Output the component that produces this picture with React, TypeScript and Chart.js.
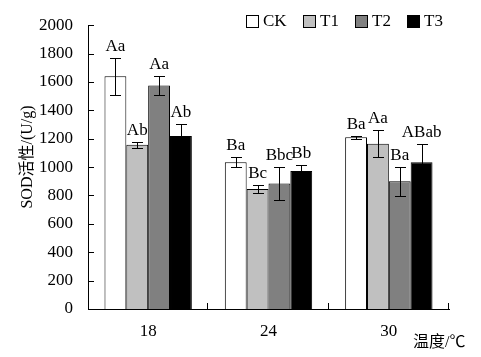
import React, { useEffect, useRef } from "react";
import { Chart, registerables } from "chart.js";

Chart.register(...registerables);

const categories = ["18", "24", "30"];
const seriesNames = ["CK", "T1", "T2", "T3"];
const ckValues = [1640, 1035, 1210];
const t1Values = [1158, 845, 1165];
const t2Values = [1575, 884, 900];
const t3Values = [1220, 972, 1035];
const ckErrors = [130, 35, 10];
const t1Errors = [22, 26, 95];
const t2Errors = [68, 116, 102];
const t3Errors = [82, 42, 128];
const ckLabels = ["Aa", "Ba", "Ba"];
const t1Labels = ["Ab", "Bc", "Aa"];
const t2Labels = ["Aa", "Bbc", "Ba"];
const t3Labels = ["Ab", "Bb", "ABab"];
const yTicks = [0, 200, 400, 600, 800, 1000, 1200, 1400, 1600, 1800, 2000];
const yTitle = "SOD活性/(U/g)";
const xTitle = "温度/℃";

const colors = ["#ffffff", "#c0c0c0", "#808080", "#000000"];
const FONT = "'Liberation Serif', 'Noto Sans CJK SC', serif";

export default function App() {
  const ref = useRef<HTMLCanvasElement>(null);
  useEffect(() => {
    document.body.style.margin = "0";
    const canvas = ref.current;
    if (!canvas) return;
    const values = [ckValues, t1Values, t2Values, t3Values];
    const errors = [ckErrors, t1Errors, t2Errors, t3Errors];
    const labels = [ckLabels, t1Labels, t2Labels, t3Labels];

    const extras = {
      id: "extras",
      afterDatasetsDraw(chart: any) {
        const ctx = chart.ctx;
        const ys = chart.scales.y;
        const area = chart.chartArea;
        ctx.save();
        ctx.strokeStyle = "#000";
        ctx.lineWidth = 1;
        // error bars and letters
        for (let d = 0; d < values.length; d++) {
          const meta = chart.getDatasetMeta(d);
          meta.data.forEach((bar: any, i: number) => {
            const x = Math.round(bar.x) + 0.5;
            const top = ys.getPixelForValue(values[d][i] + errors[d][i]);
            const bot = ys.getPixelForValue(values[d][i] - errors[d][i]);
            ctx.beginPath();
            ctx.moveTo(x, Math.round(top) + 0.5);
            ctx.lineTo(x, Math.round(bot) + 0.5);
            ctx.moveTo(x - 5.5, Math.round(top) + 0.5);
            ctx.lineTo(x + 5.5, Math.round(top) + 0.5);
            ctx.moveTo(x - 5.5, Math.round(bot) + 0.5);
            ctx.lineTo(x + 5.5, Math.round(bot) + 0.5);
            ctx.stroke();
            ctx.fillStyle = "#000";
            ctx.font = "17px " + FONT;
            ctx.textAlign = "center";
            ctx.textBaseline = "alphabetic";
            ctx.fillText(labels[d][i], bar.x, top - 7);
          });
        }
        // inward y ticks
        yTicks.forEach((v) => {
          const y = Math.round(ys.getPixelForValue(v)) + 0.5;
          ctx.beginPath();
          ctx.moveTo(area.left, y);
          ctx.lineTo(area.left + 6, y);
          ctx.stroke();
        });
        // inward x ticks at category boundaries
        const w = (area.right - area.left) / categories.length;
        for (let i = 1; i <= categories.length; i++) {
          const x = Math.round(area.left + i * w) - 0.5;
          ctx.beginPath();
          ctx.moveTo(x, area.bottom);
          ctx.lineTo(x, area.bottom - 6);
          ctx.stroke();
        }
        // legend
        const legendBoxX = [246, 303, 355, 407];
        ctx.font = "17px " + FONT;
        ctx.textAlign = "left";
        ctx.textBaseline = "middle";
        seriesNames.forEach((n, k) => {
          ctx.fillStyle = colors[k];
          ctx.fillRect(legendBoxX[k] + 0.5, 15.5, 12, 12);
          ctx.strokeRect(legendBoxX[k] + 0.5, 15.5, 12, 12);
          ctx.fillStyle = "#000";
          ctx.fillText(n, legendBoxX[k] + 17, 22);
        });
        // axis titles
        ctx.fillStyle = "#000";
        ctx.font = "16px " + FONT;
        ctx.textAlign = "left";
        ctx.textBaseline = "middle";
        ctx.fillText(xTitle, 413, 343);
        ctx.save();
        ctx.translate(28, 157);
        ctx.rotate(-Math.PI / 2);
        ctx.textAlign = "center";
        ctx.fillText(yTitle, 0, 0);
        ctx.restore();
        ctx.restore();
      },
    };

    const chart = new Chart(canvas, {
      type: "bar",
      data: {
        labels: categories,
        datasets: seriesNames.map((n, k) => ({
          label: n,
          data: values[k],
          backgroundColor: colors[k],
          borderColor: "#000",
          borderWidth: 1,
          categoryPercentage: 0.726,
          barPercentage: 1,
        })),
      },
      options: {
        responsive: false,
        animation: false,
        devicePixelRatio: 1,
        layout: { padding: { left: 0, top: 21, right: 32, bottom: 0 } },
        plugins: { legend: { display: false }, tooltip: { enabled: false } },
        scales: {
          x: {
            offset: true,
            grid: { display: false, drawTicks: false },
            border: { display: true, color: "#000", width: 1 },
            ticks: { color: "#000", font: { family: FONT, size: 17 }, padding: 12 },
            afterFit: (s: any) => {
              s.height = 48;
            },
          },
          y: {
            min: 0,
            max: 2000,
            grid: { display: false, drawTicks: false },
            border: { display: true, color: "#000", width: 1 },
            ticks: {
              stepSize: 200,
              color: "#000",
              font: { family: FONT, size: 17 },
              padding: 15,
              callback: (v: any) => String(v),
            },
            afterFit: (s: any) => {
              s.width = 88;
            },
          },
        },
      },
      plugins: [extras],
    });
    return () => chart.destroy();
  }, []);
  return <canvas ref={ref} width={481} height={357} style={{ display: "block" }} />;
}
